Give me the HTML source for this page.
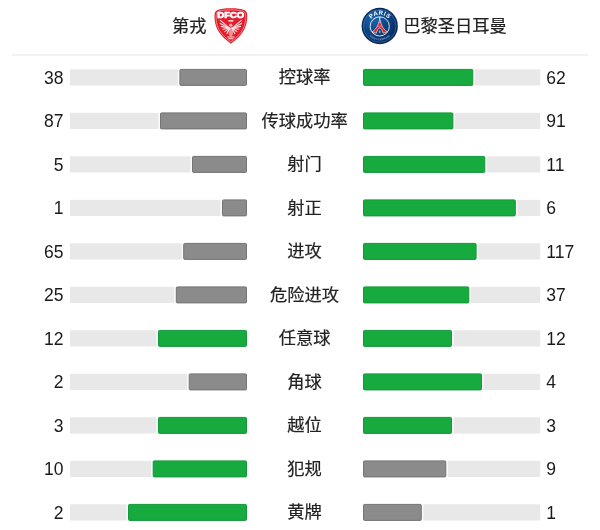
<!DOCTYPE html>
<html lang="zh-CN"><head><meta charset="utf-8"><title>技术统计</title>
<style>
html,body{margin:0;padding:0;background:#fff}
body{width:600px;height:530px;position:relative;overflow:hidden;font-family:"Liberation Sans","Noto Sans CJK SC",sans-serif;color:#1a1a1a}
.hd{position:absolute;top:0;left:0;width:600px;height:54px}
.hr{position:absolute;left:12px;top:54px;width:576px;height:2px;background:#f3f3f3}
.tn{position:absolute;top:13.5px;font-size:17.25px;-webkit-text-stroke:.2px #222;line-height:24px;white-space:nowrap;color:#222}
.row{position:absolute;left:0;width:600px;height:17px}
.n{position:absolute;top:-3.4px;font-size:17.5px;line-height:24px;white-space:nowrap;color:#1a1a1a}
.n.l{right:536.6px;text-align:right}
.n.r{left:546.3px}
.nm{position:absolute;left:204.6px;width:200px;text-align:center;top:-3.6px;font-size:17.25px;-webkit-text-stroke:.2px #222;line-height:24px;white-space:nowrap;color:#222}
.bars{position:absolute;left:0;top:0}
</style></head><body>
<div class="hd">
<span class="tn" style="right:393.5px">第戎</span>
<svg style="position:absolute;left:214px;top:8px" width="34" height="37" viewBox="0 0 34 37">
<path d="M16.85 0.3C11 0.3 6.5 0.9 3.6 1.9C1.6 2.6 0.7 4 0.55 6.5C0.4 9.5 0.6 13.5 1.8 17.6C3 21.6 5.5 25.3 8.5 28.6C11 31.3 14 33.7 16.85 35.7C19.7 33.7 22.7 31.3 25.2 28.6C28.2 25.3 30.7 21.6 31.9 17.6C33.1 13.5 33.3 9.5 33.15 6.5C33.0 4 32.1 2.6 30.1 1.9C27.2 0.9 22.7 0.3 16.85 0.3Z" fill="#e21d2c"/>
<path d="M16.85 1.81C11.56 1.81 7.48 2.35 4.86 3.26C3.05 3.89 2.23 5.16 2.1 7.42C1.96 10.14 2.14 13.76 3.23 17.47C4.32 21.09 6.58 24.44 9.29 27.42C11.56 29.87 14.27 32.04 16.85 33.85C19.43 32.04 22.14 29.87 24.41 27.42C27.12 24.44 29.38 21.09 30.47 17.47C31.56 13.76 31.74 10.14 31.6 7.42C31.47 5.16 30.65 3.89 28.84 3.26C26.22 2.35 22.14 1.81 16.85 1.81Z" fill="none" stroke="#fbc0c4" stroke-width=".65" opacity=".9"/>
<text x="3.3" y="10.3" textLength="27" lengthAdjust="spacingAndGlyphs" font-family="Liberation Sans, sans-serif" font-weight="bold" font-size="8.5" fill="#fff" stroke="#fff" stroke-width=".7" stroke-linejoin="round">DFCO</text>
<rect x="14.3" y="12" width="5.1" height="1.7" rx=".5" fill="#fff" opacity=".75"/>
<g stroke="#fff" stroke-width="1.1" fill="none" opacity=".88" stroke-linecap="round"><path d="M15.6 20.2L6.3 12.4"/><path d="M18.1 20.2L27.4 12.4"/><path d="M15.6 20.2L6.2 15.4"/><path d="M18.1 20.2L27.5 15.4"/><path d="M15.6 20.2L7.2 18.4"/><path d="M18.1 20.2L26.5 18.4"/><path d="M15.6 20.2L8.8 21.2"/><path d="M18.1 20.2L24.9 21.2"/><path d="M15.6 20.2L10.8 23.6"/><path d="M18.1 20.2L22.9 23.6"/><path d="M15.6 20.2L13 25.6"/><path d="M18.1 20.2L20.7 25.6"/>
<path d="M13.6 29L20.1 29"/><path d="M14.9 30.8L18.8 30.8"/>
</g>
<ellipse cx="16.85" cy="24" rx="2.2" ry="4.4" fill="#fff" opacity=".5"/>
<circle cx="16.85" cy="17.2" r="1.6" fill="#fff" opacity=".65"/>
</svg>
<svg style="position:absolute;left:361px;top:7px" width="38" height="38" viewBox="0 0 38 38">
<defs><radialGradient id="pg" cx=".32" cy=".28" r=".75"><stop offset="0" stop-color="#1e69b2"/><stop offset=".5" stop-color="#0d4788"/><stop offset="1" stop-color="#072c64"/></radialGradient>
<path id="arc" d="M7.54 18.9A11.2 11.2 0 0 1 29.94 18.9"/>
<path id="arc2" d="M4.44 19.1A14.3 14.3 0 0 0 33.04 19.1"/></defs>
<circle cx="18.74" cy="19" r="18.15" fill="#0a2858"/>
<circle cx="18.74" cy="19" r="16.7" fill="url(#pg)"/>
<circle cx="18.74" cy="19" r="16.3" fill="none" stroke="#5a93d0" stroke-width=".55" opacity=".75"/>
<circle cx="18.74" cy="19.4" r="9.6" fill="none" stroke="#fff" stroke-width=".9" opacity=".95"/>
<path d="M18.74 10C18.3 16.4 16.2 21.6 11.2 24.8L15.3 26.3C16.1 23.2 17.4 21 18.74 21C20.08 21 21.4 23.2 22.2 26.3L26.3 24.8C21.3 21.6 19.2 16.4 18.74 10Z" fill="#e0222d" stroke="#fff" stroke-width=".6" stroke-linejoin="round"/>
<path d="M17.3 15.4H20.2M16.2 19.2H21.3" stroke="#fff" stroke-width=".45" opacity=".8"/>
<path d="M18.74 23.2L19.9 24.8L18.74 26.4L17.6 24.8Z" fill="#c9a64e"/>
<text font-family="Liberation Sans, sans-serif" font-weight="bold" font-size="5.9" fill="#fff" letter-spacing=".5"><textPath href="#arc" startOffset="50.5%" text-anchor="middle">PARIS</textPath></text>
<text font-family="Liberation Sans, sans-serif" font-weight="bold" font-size="2.6" fill="#a9c9ec" opacity=".75" letter-spacing=".15"><textPath href="#arc2" startOffset="50%" text-anchor="middle">SAINT-GERMAIN</textPath></text>
</svg>
<span class="tn" style="left:403.3px">巴黎圣日耳曼</span>
</div>
<div class="hr"></div>
<svg class="bars" width="600" height="530" viewBox="0 0 600 530"><rect x="70" y="69.30" width="177" height="16.2" fill="#e8e8e8"/><rect x="363" y="69.30" width="177.2" height="16.2" fill="#e8e8e8"/>
<rect x="177.80" y="68.50" width="70.80" height="17.8" fill="#fff" opacity=".8"/><rect x="179.90" y="69.40" width="66.60" height="16" rx="1" fill="#8b8b8b" stroke="#747474" stroke-width="1"/>
<rect x="361.40" y="68.50" width="113.50" height="17.8" fill="#fff" opacity=".8"/><rect x="363.50" y="69.40" width="109.30" height="16" rx="1" fill="#17ab3f" stroke="#13983a" stroke-width="1"/>
<rect x="70" y="112.80" width="177" height="16.2" fill="#e8e8e8"/><rect x="363" y="112.80" width="177.2" height="16.2" fill="#e8e8e8"/>
<rect x="158.40" y="112.00" width="90.20" height="17.8" fill="#fff" opacity=".8"/><rect x="160.50" y="112.90" width="86.00" height="16" rx="1" fill="#8b8b8b" stroke="#747474" stroke-width="1"/>
<rect x="361.40" y="112.00" width="93.60" height="17.8" fill="#fff" opacity=".8"/><rect x="363.50" y="112.90" width="89.40" height="16" rx="1" fill="#17ab3f" stroke="#13983a" stroke-width="1"/>
<rect x="70" y="156.30" width="177" height="16.2" fill="#e8e8e8"/><rect x="363" y="156.30" width="177.2" height="16.2" fill="#e8e8e8"/>
<rect x="190.40" y="155.50" width="58.20" height="17.8" fill="#fff" opacity=".8"/><rect x="192.50" y="156.40" width="54.00" height="16" rx="1" fill="#8b8b8b" stroke="#747474" stroke-width="1"/>
<rect x="361.40" y="155.50" width="125.50" height="17.8" fill="#fff" opacity=".8"/><rect x="363.50" y="156.40" width="121.30" height="16" rx="1" fill="#17ab3f" stroke="#13983a" stroke-width="1"/>
<rect x="70" y="199.80" width="177" height="16.2" fill="#e8e8e8"/><rect x="363" y="199.80" width="177.2" height="16.2" fill="#e8e8e8"/>
<rect x="220.40" y="199.00" width="28.20" height="17.8" fill="#fff" opacity=".8"/><rect x="222.50" y="199.90" width="24.00" height="16" rx="1" fill="#8b8b8b" stroke="#747474" stroke-width="1"/>
<rect x="361.40" y="199.00" width="156.00" height="17.8" fill="#fff" opacity=".8"/><rect x="363.50" y="199.90" width="151.80" height="16" rx="1" fill="#17ab3f" stroke="#13983a" stroke-width="1"/>
<rect x="70" y="243.30" width="177" height="16.2" fill="#e8e8e8"/><rect x="363" y="243.30" width="177.2" height="16.2" fill="#e8e8e8"/>
<rect x="181.60" y="242.50" width="67.00" height="17.8" fill="#fff" opacity=".8"/><rect x="183.70" y="243.40" width="62.80" height="16" rx="1" fill="#8b8b8b" stroke="#747474" stroke-width="1"/>
<rect x="361.40" y="242.50" width="116.80" height="17.8" fill="#fff" opacity=".8"/><rect x="363.50" y="243.40" width="112.60" height="16" rx="1" fill="#17ab3f" stroke="#13983a" stroke-width="1"/>
<rect x="70" y="286.80" width="177" height="16.2" fill="#e8e8e8"/><rect x="363" y="286.80" width="177.2" height="16.2" fill="#e8e8e8"/>
<rect x="174.20" y="286.00" width="74.40" height="17.8" fill="#fff" opacity=".8"/><rect x="176.30" y="286.90" width="70.20" height="16" rx="1" fill="#8b8b8b" stroke="#747474" stroke-width="1"/>
<rect x="361.40" y="286.00" width="109.50" height="17.8" fill="#fff" opacity=".8"/><rect x="363.50" y="286.90" width="105.30" height="16" rx="1" fill="#17ab3f" stroke="#13983a" stroke-width="1"/>
<rect x="70" y="330.30" width="177" height="16.2" fill="#e8e8e8"/><rect x="363" y="330.30" width="177.2" height="16.2" fill="#e8e8e8"/>
<rect x="156.40" y="329.50" width="92.20" height="17.8" fill="#fff" opacity=".8"/><rect x="158.50" y="330.40" width="88.00" height="16" rx="1" fill="#17ab3f" stroke="#13983a" stroke-width="1"/>
<rect x="361.40" y="329.50" width="92.20" height="17.8" fill="#fff" opacity=".8"/><rect x="363.50" y="330.40" width="88.00" height="16" rx="1" fill="#17ab3f" stroke="#13983a" stroke-width="1"/>
<rect x="70" y="373.80" width="177" height="16.2" fill="#e8e8e8"/><rect x="363" y="373.80" width="177.2" height="16.2" fill="#e8e8e8"/>
<rect x="187.10" y="373.00" width="61.50" height="17.8" fill="#fff" opacity=".8"/><rect x="189.20" y="373.90" width="57.30" height="16" rx="1" fill="#8b8b8b" stroke="#747474" stroke-width="1"/>
<rect x="361.40" y="373.00" width="122.20" height="17.8" fill="#fff" opacity=".8"/><rect x="363.50" y="373.90" width="118.00" height="16" rx="1" fill="#17ab3f" stroke="#13983a" stroke-width="1"/>
<rect x="70" y="417.30" width="177" height="16.2" fill="#e8e8e8"/><rect x="363" y="417.30" width="177.2" height="16.2" fill="#e8e8e8"/>
<rect x="156.40" y="416.50" width="92.20" height="17.8" fill="#fff" opacity=".8"/><rect x="158.50" y="417.40" width="88.00" height="16" rx="1" fill="#17ab3f" stroke="#13983a" stroke-width="1"/>
<rect x="361.40" y="416.50" width="92.20" height="17.8" fill="#fff" opacity=".8"/><rect x="363.50" y="417.40" width="88.00" height="16" rx="1" fill="#17ab3f" stroke="#13983a" stroke-width="1"/>
<rect x="70" y="460.80" width="177" height="16.2" fill="#e8e8e8"/><rect x="363" y="460.80" width="177.2" height="16.2" fill="#e8e8e8"/>
<rect x="151.10" y="460.00" width="97.50" height="17.8" fill="#fff" opacity=".8"/><rect x="153.20" y="460.90" width="93.30" height="16" rx="1" fill="#17ab3f" stroke="#13983a" stroke-width="1"/>
<rect x="361.40" y="460.00" width="86.50" height="17.8" fill="#fff" opacity=".8"/><rect x="363.50" y="460.90" width="82.30" height="16" rx="1" fill="#8b8b8b" stroke="#747474" stroke-width="1"/>
<rect x="70" y="504.30" width="177" height="16.2" fill="#e8e8e8"/><rect x="363" y="504.30" width="177.2" height="16.2" fill="#e8e8e8"/>
<rect x="126.40" y="503.50" width="122.20" height="17.8" fill="#fff" opacity=".8"/><rect x="128.50" y="504.40" width="118.00" height="16" rx="1" fill="#17ab3f" stroke="#13983a" stroke-width="1"/>
<rect x="361.40" y="503.50" width="62.00" height="17.8" fill="#fff" opacity=".8"/><rect x="363.50" y="504.40" width="57.80" height="16" rx="1" fill="#8b8b8b" stroke="#747474" stroke-width="1"/></svg>
<div class="row" style="top:69.0px"><span class="n l">38</span><span class="nm">控球率</span><span class="n r">62</span></div>
<div class="row" style="top:112.5px"><span class="n l">87</span><span class="nm">传球成功率</span><span class="n r">91</span></div>
<div class="row" style="top:156.0px"><span class="n l">5</span><span class="nm">射门</span><span class="n r">11</span></div>
<div class="row" style="top:199.5px"><span class="n l">1</span><span class="nm">射正</span><span class="n r">6</span></div>
<div class="row" style="top:243.0px"><span class="n l">65</span><span class="nm">进攻</span><span class="n r">117</span></div>
<div class="row" style="top:286.5px"><span class="n l">25</span><span class="nm">危险进攻</span><span class="n r">37</span></div>
<div class="row" style="top:330.0px"><span class="n l">12</span><span class="nm">任意球</span><span class="n r">12</span></div>
<div class="row" style="top:373.5px"><span class="n l">2</span><span class="nm">角球</span><span class="n r">4</span></div>
<div class="row" style="top:417.0px"><span class="n l">3</span><span class="nm">越位</span><span class="n r">3</span></div>
<div class="row" style="top:460.5px"><span class="n l">10</span><span class="nm">犯规</span><span class="n r">9</span></div>
<div class="row" style="top:504.0px"><span class="n l">2</span><span class="nm">黄牌</span><span class="n r">1</span></div>
</body></html>
